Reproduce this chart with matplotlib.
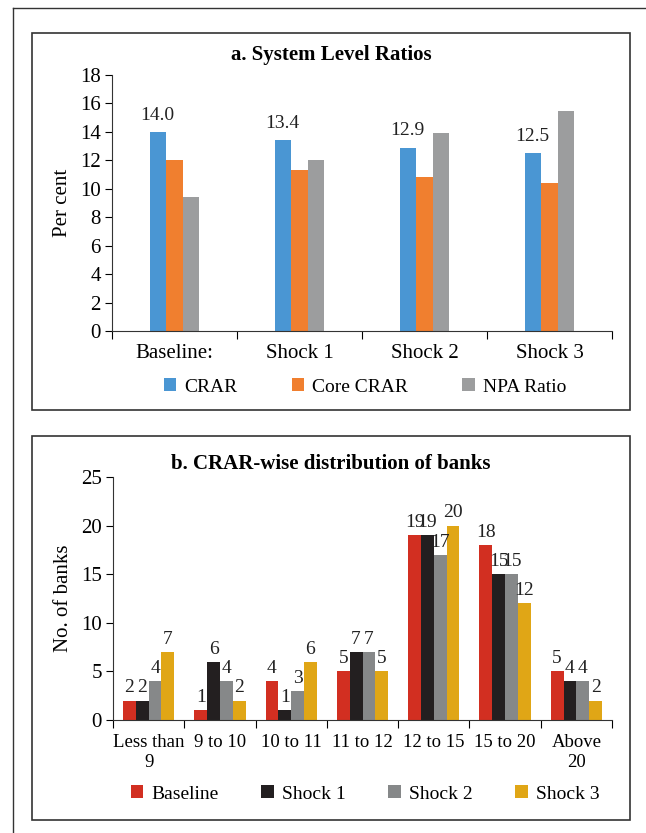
import matplotlib
matplotlib.use("Agg")
import matplotlib.pyplot as plt
import numpy as np
from matplotlib.patches import Rectangle
from matplotlib.lines import Line2D

plt.rcParams['font.family'] = ['Liberation Serif', 'DejaVu Serif']

# ---- data panel a ----
a_categories = ["Baseline:", "Shock 1", "Shock 2", "Shock 3"]
a_series = ["CRAR", "Core CRAR", "NPA Ratio"]
crar = [14.0, 13.4, 12.9, 12.5]
core_crar = [12.0, 11.3, 10.8, 10.4]
npa_ratio = [9.4, 12.0, 13.9, 15.5]
a_colors = ["#4a96d3", "#f07f2f", "#9c9d9e"]

# ---- data panel b ----
b_categories = ["Less than\n9", "9 to 10", "10 to 11", "11 to 12", "12 to 15", "15 to 20", "Above\n20"]
b_series = ["Baseline", "Shock 1", "Shock 2", "Shock 3"]
baseline = [2, 1, 4, 5, 19, 18, 5]
shock1 = [2, 6, 1, 7, 19, 15, 4]
shock2 = [4, 4, 3, 7, 17, 15, 4]
shock3 = [7, 2, 6, 5, 20, 12, 2]
b_colors = ["#d22f21", "#231f20", "#868889", "#e0a616"]

W, H = 646, 833
fig = plt.figure(figsize=(W / 100, H / 100), dpi=100)

def fx(px):
    return px / W

def fy(py):
    return 1 - py / H

# outer frame lines
fig.add_artist(Line2D([fx(13), fx(13)], [fy(8), fy(833)], color="#333333", lw=1.0))
fig.add_artist(Line2D([fx(13), fx(646)], [fy(8), fy(8)], color="#333333", lw=1.0))

# panel boxes
for (t, b) in [(33, 410), (436, 820)]:
    fig.add_artist(Rectangle((fx(32), fy(b)), fx(630) - fx(32), fy(t) - fy(b),
                             fill=False, edgecolor="#333333", lw=1.2))

tick_fs = 15

# ---------------- panel a ----------------
axa = fig.add_axes([fx(112), fy(331), fx(612) - fx(112), fy(75) - fy(331)])
vals_a = [crar, core_crar, npa_ratio]
x = np.arange(len(a_categories))
bw = 0.13
for i, (vals, col) in enumerate(zip(vals_a, a_colors)):
    axa.bar(x + (i - 1) * bw, vals, bw, color=col, label=a_series[i])
for xi, v in zip(x, crar):
    axa.annotate(f"{v:.1f}", (xi - bw, v), xytext=(-1, 6), textcoords="offset points",
                 ha="center", va="bottom", fontsize=14, color="#222222")
axa.set_xlim(-0.5, len(a_categories) - 0.5)
axa.set_ylim(0, 18)
axa.set_yticks(np.arange(0, 19, 2))
axa.set_xticks(np.arange(-0.5, len(a_categories), 1))
axa.set_xticklabels([])
axa.set_xticks(x, minor=True)
axa.set_xticklabels(a_categories, minor=True, fontsize=tick_fs)
axa.tick_params(axis="x", which="minor", length=0, pad=9)
axa.tick_params(axis="x", which="major", length=6, direction="out")
axa.tick_params(axis="y", labelsize=tick_fs, length=5, direction="out", pad=3)
for s in ["top", "right"]:
    axa.spines[s].set_visible(False)
for s in ["left", "bottom"]:
    axa.spines[s].set_color("#333333")
axa.set_ylabel("Per cent", fontsize=15, labelpad=6)
fig.text(fx(331), fy(55), "a. System Level Ratios", ha="center", va="center",
         fontsize=15, fontweight="bold")
axa.legend(loc="center", bbox_to_anchor=(fx(365), fy(387)), bbox_transform=fig.transFigure,
           ncol=3, frameon=False, fontsize=14, handlelength=0.65, handleheight=0.65,
           columnspacing=2.8, handletextpad=0.4, borderpad=0, borderaxespad=0)

# ---------------- panel b ----------------
axb = fig.add_axes([fx(113), fy(720), fx(612) - fx(113), fy(477) - fy(720)])
vals_b = [baseline, shock1, shock2, shock3]
xb = np.arange(len(b_categories))
bwb = 0.18
for i, (vals, col) in enumerate(zip(vals_b, b_colors)):
    pos = xb + (i - 1.5) * bwb
    axb.bar(pos, vals, bwb, color=col, label=b_series[i])
    for p, v in zip(pos, vals):
        axb.annotate(f"{v}", (p, v), xytext=(0, 3), textcoords="offset points",
                     ha="center", va="bottom", fontsize=14, color="#222222")
axb.set_xlim(-0.5, len(b_categories) - 0.5)
axb.set_ylim(0, 25)
axb.set_yticks(np.arange(0, 26, 5))
axb.set_xticks(np.arange(-0.5, len(b_categories), 1))
axb.set_xticklabels([])
axb.set_xticks(xb, minor=True)
axb.set_xticklabels(b_categories, minor=True, fontsize=13.5, linespacing=1.25)
axb.tick_params(axis="x", which="minor", length=0, pad=10)
axb.tick_params(axis="x", which="major", length=6, direction="out")
axb.tick_params(axis="y", labelsize=tick_fs, length=5, direction="out", pad=3)
for s in ["top", "right"]:
    axb.spines[s].set_visible(False)
for s in ["left", "bottom"]:
    axb.spines[s].set_color("#333333")
axb.set_ylabel("No. of banks", fontsize=15, labelpad=6)
fig.text(fx(331), fy(464), "b. CRAR-wise distribution of banks", ha="center", va="center",
         fontsize=15, fontweight="bold")
axb.legend(loc="center", bbox_to_anchor=(fx(365), fy(794)), bbox_transform=fig.transFigure,
           ncol=4, frameon=False, fontsize=14, handlelength=0.65, handleheight=0.65,
           columnspacing=2.2, handletextpad=0.4, borderpad=0, borderaxespad=0)

fig.savefig("out.png", dpi=100)
